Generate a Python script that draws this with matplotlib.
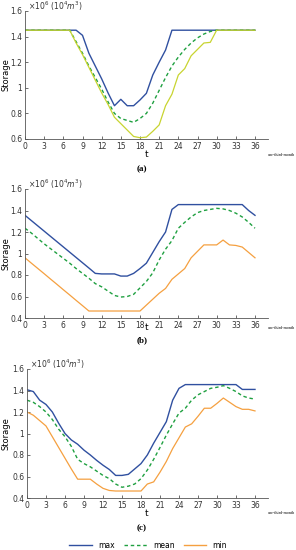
import matplotlib
matplotlib.use("Agg")
import matplotlib.pyplot as plt
from matplotlib.lines import Line2D

t = list(range(37))

a_max = [1.45]*9 + [1.41, 1.27, 1.17, 1.07, 0.96, 0.86, 0.91, 0.86, 0.86, 0.905, 0.957, 1.10, 1.20, 1.295] + [1.45]*14
a_mean = [1.45]*8 + [1.36, 1.27, 1.17, 1.08, 0.99, 0.89, 0.80, 0.76, 0.745, 0.73, 0.76, 0.80, 0.88, 0.98, 1.08, 1.17, 1.24, 1.30, 1.35, 1.39, 1.42, 1.44] + [1.45]*7
a_min = [1.45]*8 + [1.35, 1.26, 1.16, 1.06, 0.96, 0.87, 0.77, 0.72, 0.67, 0.62, 0.61, 0.615, 0.66, 0.71, 0.86, 0.95, 1.10, 1.15, 1.25, 1.30, 1.35, 1.355] + [1.45]*7

b_max = [1.355, 1.306, 1.257, 1.208, 1.159, 1.110, 1.061, 1.012, 0.963, 0.914, 0.865, 0.815, 0.81, 0.81, 0.81, 0.79, 0.79, 0.815, 0.86, 0.91, 1.01, 1.11, 1.20, 1.41, 1.455] + [1.455]*10 + [1.40, 1.355]
b_mean = [1.235, 1.19, 1.14, 1.09, 1.045, 1.0, 0.955, 0.91, 0.86, 0.815, 0.77, 0.72, 0.69, 0.65, 0.61, 0.595, 0.60, 0.62, 0.68, 0.74, 0.82, 0.94, 1.04, 1.12, 1.235, 1.29, 1.34, 1.38, 1.40, 1.41, 1.42, 1.415, 1.40, 1.375, 1.34, 1.29, 1.235]
b_min = [0.96, 0.91, 0.861, 0.812, 0.762, 0.713, 0.663, 0.614, 0.564, 0.515, 0.465] + [0.465]*8 + [0.52, 0.575, 0.63, 0.675, 0.76, 0.81, 0.86, 0.96, 1.02, 1.08, 1.08, 1.08, 1.125, 1.08, 1.075, 1.06, 1.01, 0.96]

c_max = [1.407, 1.39, 1.31, 1.27, 1.20, 1.095, 1.0, 0.94, 0.90, 0.845, 0.80, 0.75, 0.705, 0.665, 0.61, 0.61, 0.62, 0.67, 0.72, 0.80, 0.91, 1.01, 1.11, 1.31, 1.42] + [1.455]*9 + [1.41, 1.41, 1.41]
c_mean = [1.31, 1.29, 1.25, 1.20, 1.13, 1.04, 0.97, 0.88, 0.76, 0.72, 0.69, 0.65, 0.61, 0.58, 0.53, 0.50, 0.51, 0.53, 0.58, 0.66, 0.76, 0.87, 0.985, 1.09, 1.19, 1.235, 1.31, 1.36, 1.39, 1.42, 1.43, 1.445, 1.42, 1.39, 1.35, 1.33, 1.32]
c_min = [1.20, 1.17, 1.12, 1.07, 0.97, 0.87, 0.77, 0.67, 0.575, 0.575, 0.575, 0.53, 0.49, 0.47, 0.465, 0.465, 0.465, 0.465, 0.465, 0.53, 0.55, 0.64, 0.74, 0.86, 0.96, 1.06, 1.09, 1.16, 1.235, 1.235, 1.28, 1.33, 1.29, 1.25, 1.225, 1.225, 1.21]

xticks = list(range(0, 37, 3))
panel_labels = ["(a)", "(b)", "(c)"]
series_names = ["max", "mean", "min"]

BLUE = "#3050a0"
GREEN = "#1fa040"
YELLOW = "#c8d430"
ORANGE = "#f5a040"

fig = plt.figure(figsize=(2.96, 5.5), dpi=100)
W, H = 296, 550

def fx(px):
    return px / W

def fy(py):
    return 1 - py / H

panels = [
    dict(left=25, top=11, bottom=139, ylim=(0.6, 1.6), yticks=[0.6, 0.8, 1.0, 1.2, 1.4, 1.6],
         data=(a_max, a_mean, a_min), mincol=YELLOW, tlab=155, plab=169),
    dict(left=25, top=189, bottom=318, ylim=(0.4, 1.6), yticks=[0.4, 0.6, 0.8, 1.0, 1.2, 1.4, 1.6],
         data=(b_max, b_mean, b_min), mincol=ORANGE, tlab=328, plab=340),
    dict(left=27, top=369, bottom=498, ylim=(0.4, 1.6), yticks=[0.4, 0.6, 0.8, 1.0, 1.2, 1.4, 1.6],
         data=(c_max, c_mean, c_min), mincol=ORANGE, tlab=513, plab=528),
]

for i, p in enumerate(panels):
    l = p["left"]
    right = l + (255 - l) * 38 / 36
    ax = fig.add_axes([fx(l), fy(p["bottom"]), fx(right - l), (p["bottom"] - p["top"]) / H])
    mx, mn, mi = p["data"]
    ax.plot(t, mx, color=BLUE, lw=1.0)
    ax.plot(t, mn, color=GREEN, lw=1.0, ls=(0, (2.5, 2)))
    ax.plot(t, mi, color=p["mincol"], lw=0.9)
    ax.set_xlim(0, 38)
    ax.set_ylim(*p["ylim"])
    ax.set_xticks(xticks)
    ax.set_yticks(p["yticks"])
    ax.set_yticklabels([("%g" % v) for v in p["yticks"]])
    ax.tick_params(labelsize=5.5, length=2, width=0.5, direction="in", pad=2, colors="#333333")
    for s in ["top", "right"]:
        ax.spines[s].set_visible(False)
    for s in ["left", "bottom"]:
        ax.spines[s].set_linewidth(0.6)
        ax.spines[s].set_color("#555555")
    fig.text(fx(6), fy((p["top"] + p["bottom"]) / 2), "Storage", fontsize=6, rotation=90,
             ha="center", va="center")
    fig.text(fx(l + 3), fy(p["top"] - 5), r"$\times10^6$ $(10^4m^3)$", fontsize=5.5,
             ha="left", va="center", color="#333333")
    fig.text(fx(147), fy(p["tlab"]), "t", fontsize=6.5, ha="center", va="center")
    fig.text(fx(268), fy(p["tlab"]), "one-third-month", fontsize=3, ha="left", va="center",
             family="Liberation Serif")
    fig.text(fx(142), fy(p["plab"]), panel_labels[i], fontsize=6.5, ha="center",
             va="center", family="Liberation Serif", weight="bold")

handles = [Line2D([], [], color=BLUE, lw=1.0),
           Line2D([], [], color=GREEN, lw=1.0, ls=(0, (2.5, 2))),
           Line2D([], [], color=ORANGE, lw=1.0)]
fig.legend(handles, series_names, loc="center", bbox_to_anchor=(0.5, fy(545)), ncol=3,
           frameon=False, fontsize=5.5, handlelength=3.0, columnspacing=1.2, handletextpad=0.8)

fig.savefig("out.png", dpi=100)
